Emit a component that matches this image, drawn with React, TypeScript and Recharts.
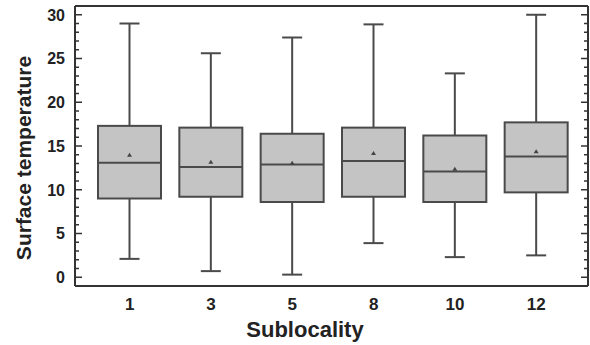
import React from 'react';
import { ComposedChart, Bar, XAxis, YAxis, Label } from 'recharts';

// box plot summary per sublocality
const categories = ['1', '3', '5', '8', '10', '12'];
const whiskerLow = [2.1, 0.7, 0.3, 3.9, 2.3, 2.5];
const q1 = [9.0, 9.2, 8.6, 9.2, 8.6, 9.7];
const median = [13.1, 12.6, 12.9, 13.3, 12.1, 13.8];
const q3 = [17.3, 17.1, 16.4, 17.1, 16.2, 17.7];
const whiskerHigh = [29.0, 25.6, 27.4, 28.9, 23.3, 30.0];
const means = [14.0, 13.2, 13.1, 14.2, 12.4, 14.4];

const yTicks = [
  0, 1, 2, 3, 4, 5, 6, 7, 8, 9, 10, 11, 12, 13, 14, 15,
  16, 17, 18, 19, 20, 21, 22, 23, 24, 25, 26, 27, 28, 29, 30,
];
const yDomain = [-1, 31];

const data = categories.map((cat, i) => ({
  cat,
  low: whiskerLow[i],
  q1: q1[i],
  median: median[i],
  q3: q3[i],
  high: whiskerHigh[i],
  mean: means[i],
}));

const FONT = '"Liberation Sans", Arial, sans-serif';
const INK = '#222';
const LINE = '#4a4a4a';
const FRAME = '#333';
const Y_AXIS_W = 75; // left margin is 0, so the plot starts here

const BoxShape = (props: any) => {
  const { x, y, width, height, payload } = props;
  const top = Math.min(y, y + height);
  const h = Math.abs(height);
  const span = payload.high - payload.low;
  const ppu = span > 0 ? h / span : 0;
  const yOf = (v: number) => top + (payload.high - v) * ppu;
  const cx = x + width / 2;
  const cap = 10;
  const my = yOf(payload.mean);
  return (
    <g>
      <line x1={cx} x2={cx} y1={yOf(payload.high)} y2={yOf(payload.q3)} stroke={LINE} strokeWidth={2} />
      <line x1={cx} x2={cx} y1={yOf(payload.q1)} y2={yOf(payload.low)} stroke={LINE} strokeWidth={2} />
      <line x1={cx - cap} x2={cx + cap} y1={yOf(payload.high)} y2={yOf(payload.high)} stroke={LINE} strokeWidth={2} />
      <line x1={cx - cap} x2={cx + cap} y1={yOf(payload.low)} y2={yOf(payload.low)} stroke={LINE} strokeWidth={2} />
      <rect
        x={x}
        y={yOf(payload.q3)}
        width={width}
        height={yOf(payload.q1) - yOf(payload.q3)}
        fill="#c4c4c4"
        stroke={LINE}
        strokeWidth={2}
      />
      <line x1={x} x2={x + width} y1={yOf(payload.median)} y2={yOf(payload.median)} stroke={LINE} strokeWidth={2} />
      <path d={`M${cx - 2.5},${my + 2} L${cx + 2.5},${my + 2} L${cx},${my - 2} Z`} fill="#444" />
    </g>
  );
};

const LeftTick = (props: any) => {
  const { y, payload } = props;
  const v = payload.value;
  const major = v % 5 === 0;
  return (
    <g>
      <path d={`M${Y_AXIS_W},${y}h${major ? 7 : 4}`} stroke={FRAME} strokeWidth={1.5} fill="none" />
      {major && (
        <text
          x={Y_AXIS_W - 10}
          y={y}
          dy="0.36em"
          textAnchor="end"
          fill={INK}
          fontSize={16}
          fontWeight="bold"
          fontFamily={FONT}
        >
          {v}
        </text>
      )}
    </g>
  );
};

const RightTick = (props: any) => {
  const { x, y, payload } = props;
  const major = payload.value % 5 === 0;
  return <path d={`M${x},${y}h${major ? -7 : -4}`} stroke={FRAME} strokeWidth={1.5} fill="none" />;
};

const YTitle = (props: any) => {
  const vb = props.viewBox;
  const cx = vb.x + 23;
  const cy = vb.y + vb.height / 2 + 12;
  return (
    <text
      x={cx}
      y={cy}
      transform={`rotate(-90 ${cx} ${cy})`}
      textAnchor="middle"
      dominantBaseline="central"
      fill={INK}
      fontSize={21}
      fontWeight="bold"
      fontFamily={FONT}
    >
      Surface temperature
    </text>
  );
};

const XTitle = (props: any) => {
  const vb = props.viewBox;
  return (
    <text x={vb.x + 230} y={vb.y + 51} textAnchor="middle" fill={INK} fontSize={22} fontWeight="bold" fontFamily={FONT}>
      Sublocality
    </text>
  );
};

export default function App() {
  return (
    <div style={{ position: 'fixed', left: 0, top: 0, width: 590, height: 345, background: '#fff' }}>
      <ComposedChart width={590} height={345} data={data} margin={{ top: 5, right: 1, bottom: 0, left: 0 }}>
        <XAxis
          dataKey="cat"
          height={59}
          padding={{ left: 14, right: 11 }}
          axisLine={{ stroke: FRAME, strokeWidth: 2 }}
          tickLine={false}
          tickSize={0}
          tickMargin={12}
          interval={0}
          tick={{ fill: INK, fontSize: 17, fontWeight: 'bold', fontFamily: FONT }}
        >
          <Label content={<XTitle />} />
        </XAxis>
        <XAxis
          xAxisId="top"
          dataKey="cat"
          orientation="top"
          height={1}
          axisLine={{ stroke: FRAME, strokeWidth: 2 }}
          tick={false}
          tickLine={false}
        />
        <YAxis
          type="number"
          width={Y_AXIS_W}
          domain={yDomain}
          ticks={yTicks}
          interval={0}
          allowDataOverflow
          axisLine={{ stroke: FRAME, strokeWidth: 2 }}
          tickLine={false}
          tickSize={0}
          tickMargin={10}
          tick={<LeftTick />}
        >
          <Label content={<YTitle />} />
        </YAxis>
        <YAxis
          yAxisId="right"
          orientation="right"
          type="number"
          width={1}
          domain={yDomain}
          ticks={yTicks}
          interval={0}
          allowDataOverflow
          axisLine={{ stroke: FRAME, strokeWidth: 2 }}
          tickLine={false}
          tickSize={0}
          tickMargin={0}
          tick={<RightTick />}
        />
        <Bar
          dataKey={(d: any) => [d.low, d.high]}
          barSize={63}
          shape={<BoxShape />}
          isAnimationActive={false}
        />
      </ComposedChart>
    </div>
  );
}
